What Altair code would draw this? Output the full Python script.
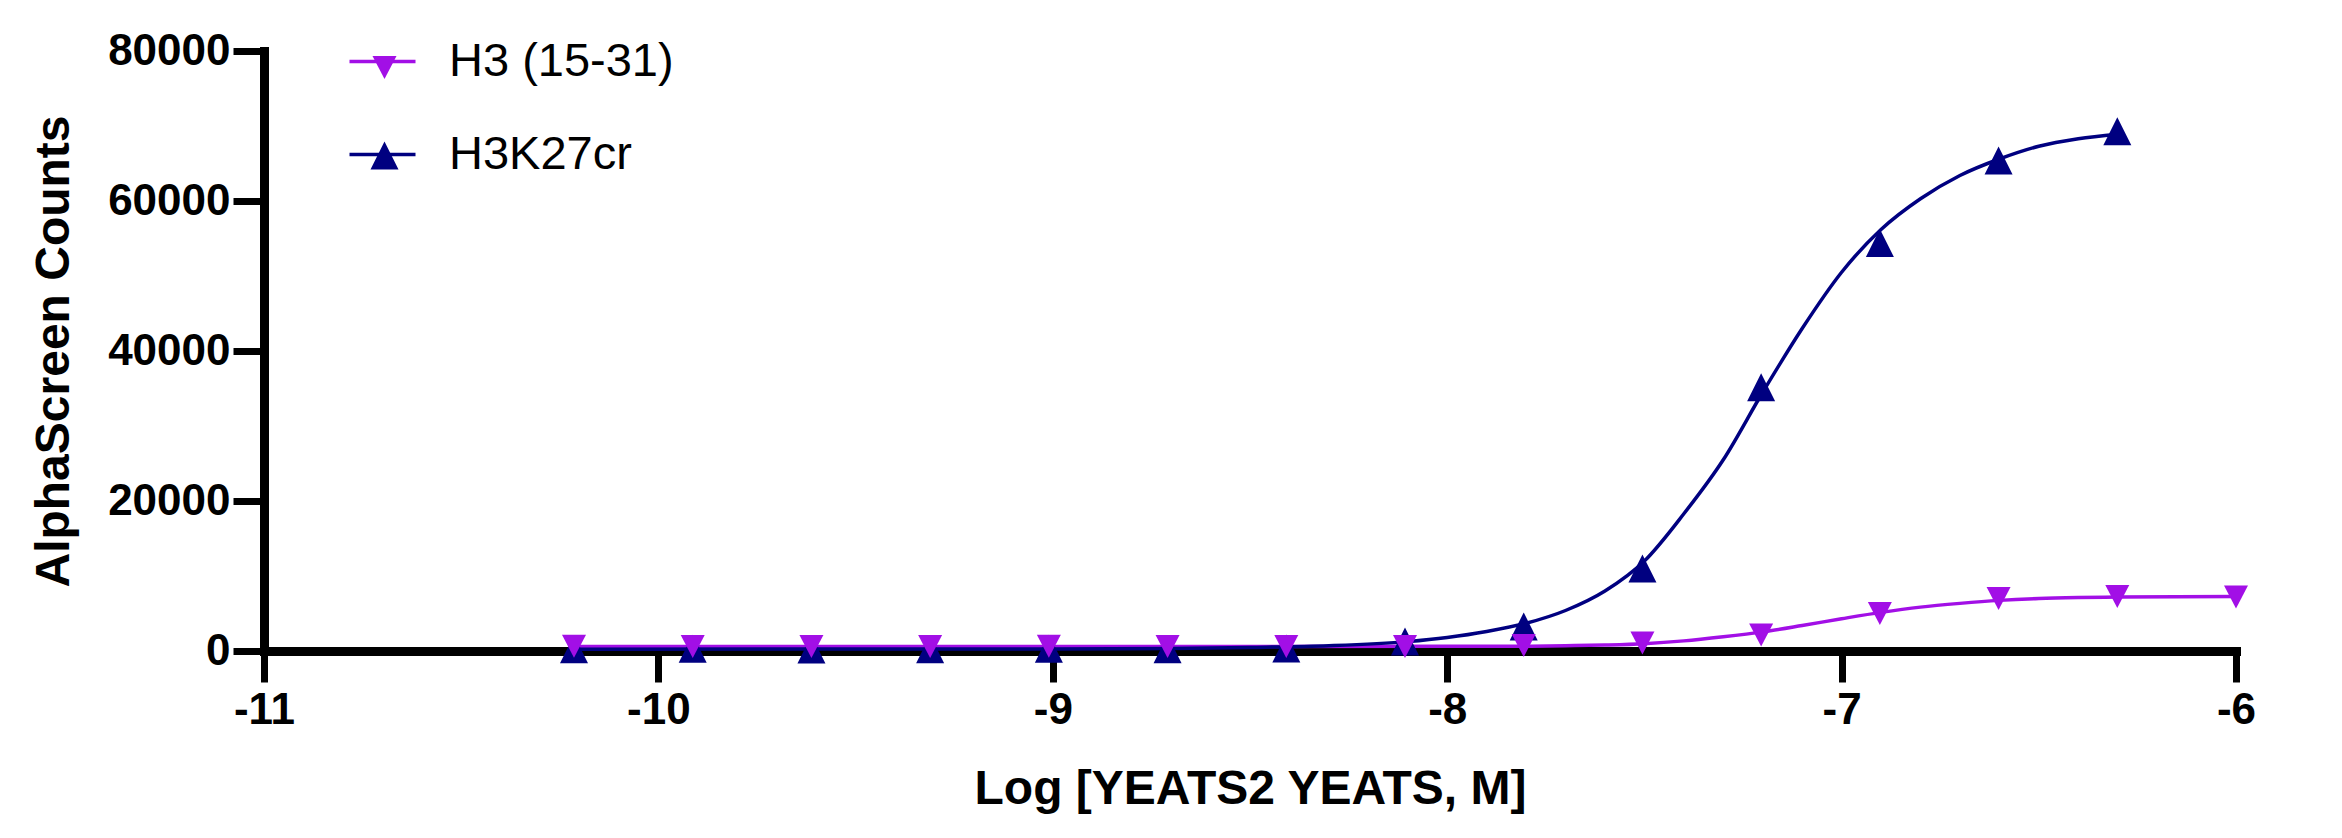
import altair as alt
import pandas as pd

# ---------------- data ----------------
series_names = ["H3 (15-31)", "H3K27cr"]
series_colors = ["#a20fe6", "#000080"]

# measured points
h3_x = [-10.214, -9.913, -9.612, -9.311, -9.010, -8.709, -8.408, -8.107,
        -7.806, -7.505, -7.204, -6.903, -6.602, -6.301, -6.0]
h3_y = [620, 600, 610, 590, 620, 600, 610, 610,
        730, 1070, 2130, 5010, 7010, 7280, 7200]

cr_x = [-10.214, -9.913, -9.612, -9.311, -9.010, -8.709, -8.408, -8.107,
        -7.806, -7.505, -7.204, -6.903, -6.602, -6.301]
cr_y = [250, 300, 200, 250, 300, 250, 350, 1280,
        3280, 11010, 35170, 54400, 65400, 69300]

# fitted curves
h3_fit_x = [-10.214, -9.0, -8.0, -7.8, -7.7, -7.6, -7.5, -7.4, -7.3, -7.2,
            -7.1, -7.0, -6.9, -6.8, -6.7, -6.6, -6.5, -6.4, -6.3, -6.0]
h3_fit_y = [600, 600, 620, 640, 700, 800, 980, 1350, 1900, 2550,
            3400, 4300, 5150, 5850, 6350, 6750, 7000, 7130, 7200, 7280]

cr_fit_x = [-10.214, -9.5, -9.0, -8.7, -8.5, -8.3, -8.1, -8.0, -7.9, -7.8,
            -7.7, -7.6, -7.5, -7.4, -7.3, -7.2, -7.1, -7.0, -6.9, -6.8,
            -6.7, -6.6, -6.5, -6.4, -6.301]
cr_fit_y = [250, 260, 280, 350, 480, 700, 1250, 1800, 2600, 3700,
            5400, 8000, 12000, 18300, 25500, 34500, 43000, 50500, 56200, 60300,
            63400, 65600, 67300, 68300, 68900]

x_ticks = [-11, -10, -9, -8, -7, -6]
y_ticks = [0, 20000, 40000, 60000, 80000]

# ---------------- tables ----------------
h3_points = pd.DataFrame({"logc": h3_x, "counts": h3_y, "series": series_names[0]})
cr_points = pd.DataFrame({"logc": cr_x, "counts": cr_y, "series": series_names[1]})
fits = pd.DataFrame({
    "logc": h3_fit_x + cr_fit_x,
    "counts": h3_fit_y + cr_fit_y,
    "series": [series_names[0]] * len(h3_fit_x) + [series_names[1]] * len(cr_fit_x),
})

FONT = "Liberation Sans"

# symbol shapes
tri_down = "M-0.857,-0.82L0.857,-0.82L0,0.82Z"
tri_up = "M0,-1L1,1L-1,1Z"
leg_line = "M-1,0L1,0"

x_enc = alt.X(
    "logc:Q",
    scale=alt.Scale(domain=[-11, -6], nice=False, zero=False),
    axis=alt.Axis(
        values=x_ticks, labelExpr="'' + datum.value",
        title="Log [YEATS2 YEATS, M]",
        titleFont=FONT, titleFontSize=48, titleFontWeight="bold", titleColor="black",
        titleY=152, titleBaseline="alphabetic",
        labelFont=FONT, labelFontSize=44, labelFontWeight="bold", labelColor="black",
        labelPadding=6, labelFlush=False, labelOverlap=False,
        tickSize=31, tickWidth=7, tickColor="black",
        domainColor="black", domainWidth=9, domainCap="square",
        grid=False,
    ),
)
y_enc = alt.Y(
    "counts:Q",
    scale=alt.Scale(domain=[0, 80000], nice=False),
    axis=alt.Axis(
        values=y_ticks, format="d",
        title="AlphaScreen Counts",
        titleFont=FONT, titleFontSize=48, titleFontWeight="bold", titleColor="black",
        titleAngle=270, titleX=-196, titleY=300, titleAlign="center",
        titleBaseline="alphabetic",
        labelFont=FONT, labelFontSize=44, labelFontWeight="bold", labelColor="black",
        labelPadding=3, labelOverlap=False, labelFlush=False,
        tickSize=31, tickWidth=7, tickColor="black",
        domainColor="black", domainWidth=9, domainCap="square",
        grid=False,
    ),
)

# legend A: line segments + labels (from the fitted-curve layer)
leg_lines = alt.Legend(
    title=None, orient="none", legendX=83.5, legendY=-24.5, padding=0,
    labelFont=FONT, labelFontSize=47, labelColor="black", labelOffset=31.5,
    labelLimit=0, rowPadding=35, symbolType=leg_line, symbolSize=4356,
    symbolStrokeWidth=3.5, symbolOpacity=1,
)


def marker_legend(shape, legend_y):
    # one-entry legend whose triangle sits on the line segment of legend A (no label text)
    return alt.Legend(
        title=None, orient="none", legendX=97, legendY=legend_y, padding=0,
        labelFont=FONT, labelFontSize=47, labelColor="transparent", labelOffset=10,
        labelExpr="''", labelLimit=0, symbolSize=784, symbolStrokeWidth=0,
        symbolOpacity=1, symbolType=shape,
    )


lines = alt.Chart(fits).mark_line(strokeWidth=3.5, interpolate="monotone").encode(
    x=x_enc, y=y_enc,
    color=alt.Color("series:N", scale=alt.Scale(domain=series_names, range=series_colors),
                    legend=leg_lines),
    detail="series:N",
)

dots_cr = alt.Chart(cr_points).mark_point(filled=True, opacity=1, size=784, shape=tri_up).encode(
    x=x_enc, y=y_enc,
    color=alt.Color("series:N", scale=alt.Scale(domain=[series_names[1]], range=[series_colors[1]]),
                    legend=marker_legend(tri_up, 81)),
)

dots_h3 = alt.Chart(h3_points).mark_point(filled=True, opacity=1, size=784, shape=tri_down).encode(
    x=x_enc, y=y_enc,
    color=alt.Color("series:N", scale=alt.Scale(domain=[series_names[0]], range=[series_colors[0]]),
                    legend=marker_legend(tri_down, -7)),
)

chart = alt.layer(lines, dots_cr, dots_h3).resolve_scale(color="independent").properties(
    width=1972, height=600,
    autosize=alt.AutoSizeParams(type="none"),
    padding={"left": 256, "top": 43, "right": 98, "bottom": 170},
    background="white",
).configure_view(stroke=None)

chart.save("out.html", embed_options={"renderer": "svg", "actions": False})
